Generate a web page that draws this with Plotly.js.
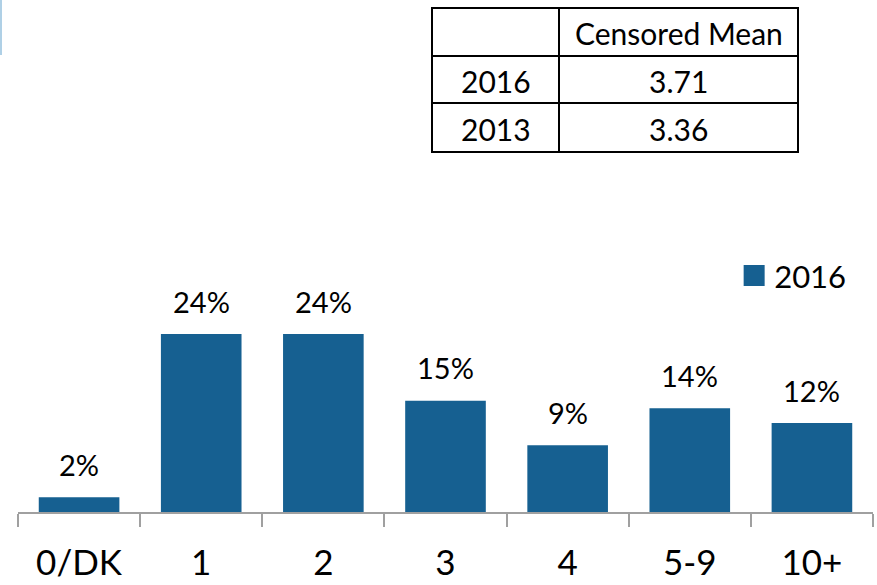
<!DOCTYPE html>
<html>
<head>
<meta charset="utf-8">
<script src="https://cdn.plot.ly/plotly-3.0.1.min.js"></script>
<style>html,body{margin:0;padding:0;background:#fff;}#chart{width:877px;height:585px;}</style>
</head>
<body>
<div id="chart"></div>
<script>
var categories = ["0/DK", "1", "2", "3", "4", "5-9", "10+"];
var values2016 = [2, 24, 24, 15, 9, 14, 12];
var seriesName = "2016";
var tableHeader = ["", "Censored Mean"];
var tableYears = ["2016", "2013"];
var tableMeans = ["3.71", "3.36"];

var barColor = "#166091";
var fontFam = "Lato, 'Open Sans', sans-serif";

// paper-coordinate helpers (plot area: x 18..873, y 0..512 px)
function px(x) { return (x - 18) / 855; }
function py(y) { return 1 - y / 512; }

var bar = {
  type: "bar",
  x: categories,
  y: values2016,
  name: seriesName,
  marker: {color: barColor},
  hoverinfo: "none",
  showlegend: true
};

var annotations = categories.map(function (c, i) {
  return {
    x: c, y: values2016[i], xref: "x", yref: "y",
    text: values2016[i] + "%",
    showarrow: false, yanchor: "middle", yshift: 33,
    font: {family: fontFam, size: 29, color: "#000"}
  };
});

// table layout (pixel grid of the box)
var colEdges = [432, 559, 798];
var rowEdges = [8, 56, 103, 152];
var shapes = [];
colEdges.forEach(function (x) {
  shapes.push({type: "line", xref: "paper", yref: "paper",
    x0: px(x), x1: px(x), y0: py(rowEdges[0]), y1: py(rowEdges[3]),
    line: {color: "#000", width: 2}});
});
rowEdges.forEach(function (y) {
  shapes.push({type: "line", xref: "paper", yref: "paper",
    x0: px(colEdges[0] - 1), x1: px(colEdges[2] + 1), y0: py(y), y1: py(y),
    line: {color: "#000", width: 2}});
});
var tableRows = [tableHeader].concat(tableYears.map(function (yr, i) { return [yr, tableMeans[i]]; }));
tableRows.forEach(function (row, r) {
  row.forEach(function (txt, c) {
    if (!txt) return;
    annotations.push({
      xref: "paper", yref: "paper",
      x: px((colEdges[c] + colEdges[c + 1]) / 2),
      y: py((rowEdges[r] + rowEdges[r + 1]) / 2 + 1),
      text: txt, showarrow: false, xanchor: "center", yanchor: "middle",
      font: {family: fontFam, size: 30, color: "#000"}
    });
  });
});
shapes.push({
  type: "line", xref: "paper", yref: "paper",
  x0: px(1), x1: px(1), y0: 1, y1: py(55),
  line: {color: "rgba(110,170,210,0.55)", width: 2}
});

var layout = {
  width: 877, height: 585,
  margin: {l: 18, r: 4, t: 0, b: 73},
  paper_bgcolor: "#fff", plot_bgcolor: "#fff",
  font: {family: fontFam, color: "#000"},
  bargap: 0.34,
  showlegend: true,
  legend: {
    x: 0.8376, y: 0.461, xanchor: "left", yanchor: "middle",
    font: {family: fontFam, size: 31, color: "#000"},
    bgcolor: "rgba(0,0,0,0)"
  },
  xaxis: {
    type: "category",
    showline: true, linecolor: "#a0a0a0", linewidth: 2,
    ticks: "outside", tickson: "boundaries", ticklen: 13, tickcolor: "#a0a0a0", tickwidth: 2,
    ticklabelstandoff: 19,
    tickfont: {family: fontFam, size: 35, color: "#000"},
    showgrid: false, zeroline: false, fixedrange: true
  },
  yaxis: {
    domain: [0, 0.4922],
    range: [0, 34],
    visible: false, showgrid: false, zeroline: false, fixedrange: true
  },
  annotations: annotations,
  shapes: shapes
};

Plotly.newPlot("chart", [bar], layout, {displayModeBar: false, staticPlot: true}).then(function (gd) {
  var pts = gd.querySelectorAll(".legend .legendpoints path");
  pts.forEach(function (p) {
    p.setAttribute("transform", (p.getAttribute("transform") || "") + " scale(1.75)");
  });
});
</script>
</body>
</html>
